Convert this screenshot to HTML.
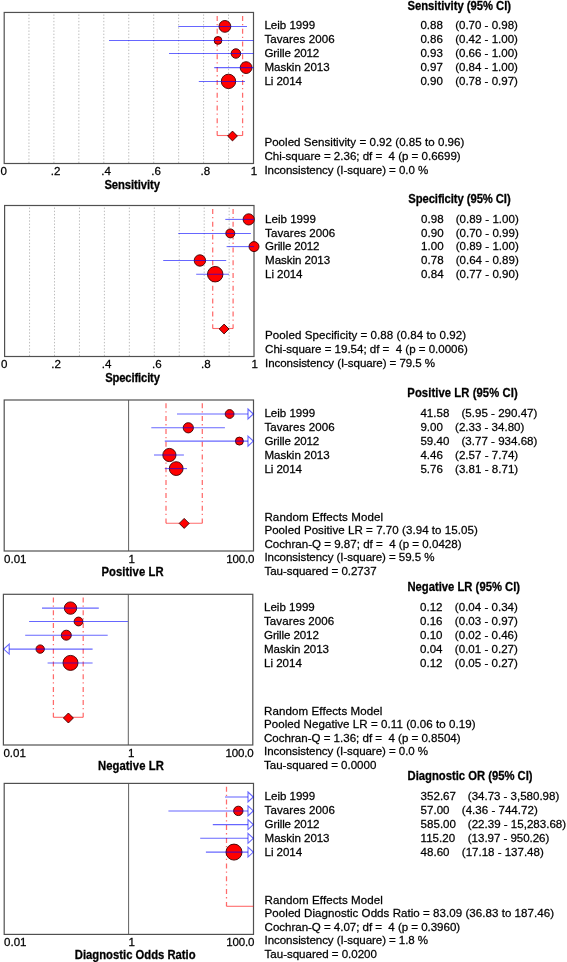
<!DOCTYPE html>
<html><head><meta charset="utf-8"><style>
html,body{margin:0;padding:0;background:#fff;overflow:hidden;}
svg{display:block;will-change:transform;filter:blur(0.35px);}
text{font-family:"Liberation Sans",sans-serif;fill:#000;white-space:pre;stroke:#000;stroke-width:0.25px;}
</style></head><body>
<svg width="567" height="962" viewBox="0 0 567 962" xml:space="preserve">
<!-- panel Sensitivity -->
<line x1="28.95" y1="14.45" x2="28.95" y2="163.0" stroke="#bcbcbc" stroke-width="1" stroke-dasharray="1.4 1.8"/>
<line x1="53.9" y1="14.45" x2="53.9" y2="163.0" stroke="#bcbcbc" stroke-width="1" stroke-dasharray="1.4 1.8"/>
<line x1="78.85" y1="14.45" x2="78.85" y2="163.0" stroke="#bcbcbc" stroke-width="1" stroke-dasharray="1.4 1.8"/>
<line x1="103.8" y1="14.45" x2="103.8" y2="163.0" stroke="#bcbcbc" stroke-width="1" stroke-dasharray="1.4 1.8"/>
<line x1="128.75" y1="14.45" x2="128.75" y2="163.0" stroke="#bcbcbc" stroke-width="1" stroke-dasharray="1.4 1.8"/>
<line x1="153.7" y1="14.45" x2="153.7" y2="163.0" stroke="#bcbcbc" stroke-width="1" stroke-dasharray="1.4 1.8"/>
<line x1="178.65" y1="14.45" x2="178.65" y2="163.0" stroke="#bcbcbc" stroke-width="1" stroke-dasharray="1.4 1.8"/>
<line x1="203.6" y1="14.45" x2="203.6" y2="163.0" stroke="#bcbcbc" stroke-width="1" stroke-dasharray="1.4 1.8"/>
<line x1="228.55" y1="14.45" x2="228.55" y2="163.0" stroke="#bcbcbc" stroke-width="1" stroke-dasharray="1.4 1.8"/>
<rect x="4.2" y="12.45" width="249.3" height="151.05" fill="none" stroke="#505050" stroke-width="1.2"/>
<line x1="217.2" y1="15.9" x2="217.2" y2="135.5" stroke="rgba(255,0,0,0.58)" stroke-width="1.25" stroke-dasharray="5 3 1.3 3.5"/>
<line x1="242.6" y1="15.9" x2="242.6" y2="135.5" stroke="rgba(255,0,0,0.58)" stroke-width="1.25" stroke-dasharray="5 3 1.3 3.5"/>
<line x1="217.2" y1="135.5" x2="242.6" y2="135.5" stroke="rgba(255,0,0,0.58)" stroke-width="1.1"/>
<circle cx="224.9" cy="26.4" r="5.9" fill="#ff0000" stroke="#3a0000" stroke-width="0.9"/>
<circle cx="218.0" cy="40.4" r="3.9" fill="#ff0000" stroke="#3a0000" stroke-width="0.9"/>
<circle cx="235.9" cy="53.5" r="4.75" fill="#ff0000" stroke="#3a0000" stroke-width="0.9"/>
<circle cx="246.1" cy="67.6" r="5.9" fill="#ff0000" stroke="#3a0000" stroke-width="0.9"/>
<circle cx="228.5" cy="81.4" r="7.2" fill="#ff0000" stroke="#3a0000" stroke-width="0.9"/>
<line x1="178.3" y1="26.4" x2="247" y2="26.4" stroke="rgba(0,0,255,0.6)" stroke-width="1.05"/>
<line x1="109" y1="40.4" x2="253.5" y2="40.4" stroke="rgba(0,0,255,0.6)" stroke-width="1.05"/>
<line x1="169" y1="53.5" x2="253.5" y2="53.5" stroke="rgba(0,0,255,0.6)" stroke-width="1.05"/>
<line x1="214.2" y1="67.6" x2="253.5" y2="67.6" stroke="rgba(0,0,255,0.6)" stroke-width="1.05"/>
<line x1="198.8" y1="81.4" x2="245" y2="81.4" stroke="rgba(0,0,255,0.6)" stroke-width="1.05"/>
<polygon points="227.6,136 232.5,131.1 237.4,136 232.5,140.9" fill="#ff0000" stroke="#3a0000" stroke-width="0.9"/>
<text x="407.44" y="10.0" font-size="11.27" font-weight="bold" textLength="103.68" lengthAdjust="spacing" transform="matrix(1 0 0 1.06 0 -0.6)">Sensitivity (95% CI)</text>
<text x="264.4" y="29.3" font-size="11.58" textLength="50.68" lengthAdjust="spacing" transform="matrix(1 0 0 1.01 0 -0.293)">Leib 1999</text>
<text x="420.4" y="29.3" font-size="11.58" transform="matrix(1 0 0 1.01 0 -0.293)">0.88</text>
<text x="455.16" y="29.3" font-size="11.58" textLength="62.77" lengthAdjust="spacing" transform="matrix(1 0 0 1.01 0 -0.293)">(0.70 - 0.98)</text>
<text x="264.4" y="43.0" font-size="11.58" textLength="70.26" lengthAdjust="spacing" transform="matrix(1 0 0 1.01 0 -0.43)">Tavares 2006</text>
<text x="420.4" y="43.0" font-size="11.58" transform="matrix(1 0 0 1.01 0 -0.43)">0.86</text>
<text x="455.16" y="43.0" font-size="11.58" textLength="62.77" lengthAdjust="spacing" transform="matrix(1 0 0 1.01 0 -0.43)">(0.42 - 1.00)</text>
<text x="264.4" y="56.8" font-size="11.58" textLength="54.91" lengthAdjust="spacing" transform="matrix(1 0 0 1.01 0 -0.568)">Grille 2012</text>
<text x="420.4" y="56.8" font-size="11.58" transform="matrix(1 0 0 1.01 0 -0.568)">0.93</text>
<text x="455.16" y="56.8" font-size="11.58" textLength="62.77" lengthAdjust="spacing" transform="matrix(1 0 0 1.01 0 -0.568)">(0.66 - 1.00)</text>
<text x="264.4" y="70.75" font-size="11.58" textLength="65.21" lengthAdjust="spacing" transform="matrix(1 0 0 1.01 0 -0.708)">Maskin 2013</text>
<text x="420.4" y="70.75" font-size="11.58" transform="matrix(1 0 0 1.01 0 -0.708)">0.97</text>
<text x="455.16" y="70.75" font-size="11.58" textLength="62.77" lengthAdjust="spacing" transform="matrix(1 0 0 1.01 0 -0.708)">(0.84 - 1.00)</text>
<text x="264.4" y="84.85" font-size="11.58" textLength="37.63" lengthAdjust="spacing" transform="matrix(1 0 0 1.01 0 -0.849)">Li 2014</text>
<text x="420.4" y="84.85" font-size="11.58" transform="matrix(1 0 0 1.01 0 -0.849)">0.90</text>
<text x="455.16" y="84.85" font-size="11.58" textLength="62.77" lengthAdjust="spacing" transform="matrix(1 0 0 1.01 0 -0.849)">(0.78 - 0.97)</text>
<text x="264.4" y="145.9" font-size="11.58" textLength="200.0" lengthAdjust="spacing" transform="matrix(1 0 0 1.01 0 -1.459)">Pooled Sensitivity = 0.92 (0.85 to 0.96)</text>
<text x="264.4" y="159.8" font-size="11.58" textLength="196.25" lengthAdjust="spacing" transform="matrix(1 0 0 1.01 0 -1.598)">Chi-square = 2.36; df =  4 (p = 0.6699)</text>
<text x="264.4" y="173.7" font-size="11.58" textLength="163.8" lengthAdjust="spacing" transform="matrix(1 0 0 1.01 0 -1.737)">Inconsistency (I-square) = 0.0 %</text>
<text x="3.7" y="174.8" font-size="11.58" text-anchor="middle" transform="matrix(1 0 0 1.01 0 -1.748)">0</text>
<text x="55.5" y="174.8" font-size="11.58" text-anchor="middle" transform="matrix(1 0 0 1.01 0 -1.748)">.2</text>
<text x="106.1" y="174.8" font-size="11.58" text-anchor="middle" transform="matrix(1 0 0 1.01 0 -1.748)">.4</text>
<text x="156.2" y="174.8" font-size="11.58" text-anchor="middle" transform="matrix(1 0 0 1.01 0 -1.748)">.6</text>
<text x="205.3" y="174.8" font-size="11.58" text-anchor="middle" transform="matrix(1 0 0 1.01 0 -1.748)">.8</text>
<text x="254.0" y="174.8" font-size="11.58" text-anchor="middle" transform="matrix(1 0 0 1.01 0 -1.748)">1</text>
<text x="104.43" y="189.0" font-size="11.27" font-weight="bold" textLength="55.51" lengthAdjust="spacing" transform="matrix(1 0 0 1.06 0 -11.34)">Sensitivity</text>
<!-- panel Specificity -->
<line x1="29.55" y1="207.5" x2="29.55" y2="356.0" stroke="#bcbcbc" stroke-width="1" stroke-dasharray="1.4 1.8"/>
<line x1="54.5" y1="207.5" x2="54.5" y2="356.0" stroke="#bcbcbc" stroke-width="1" stroke-dasharray="1.4 1.8"/>
<line x1="79.45" y1="207.5" x2="79.45" y2="356.0" stroke="#bcbcbc" stroke-width="1" stroke-dasharray="1.4 1.8"/>
<line x1="104.4" y1="207.5" x2="104.4" y2="356.0" stroke="#bcbcbc" stroke-width="1" stroke-dasharray="1.4 1.8"/>
<line x1="129.35" y1="207.5" x2="129.35" y2="356.0" stroke="#bcbcbc" stroke-width="1" stroke-dasharray="1.4 1.8"/>
<line x1="154.3" y1="207.5" x2="154.3" y2="356.0" stroke="#bcbcbc" stroke-width="1" stroke-dasharray="1.4 1.8"/>
<line x1="179.25" y1="207.5" x2="179.25" y2="356.0" stroke="#bcbcbc" stroke-width="1" stroke-dasharray="1.4 1.8"/>
<line x1="204.2" y1="207.5" x2="204.2" y2="356.0" stroke="#bcbcbc" stroke-width="1" stroke-dasharray="1.4 1.8"/>
<line x1="229.15" y1="207.5" x2="229.15" y2="356.0" stroke="#bcbcbc" stroke-width="1" stroke-dasharray="1.4 1.8"/>
<rect x="4.6" y="205.5" width="249.4" height="151.0" fill="none" stroke="#505050" stroke-width="1.2"/>
<line x1="212.7" y1="209.0" x2="212.7" y2="328.5" stroke="rgba(255,0,0,0.58)" stroke-width="1.25" stroke-dasharray="5 3 1.3 3.5"/>
<line x1="233.1" y1="209.0" x2="233.1" y2="328.5" stroke="rgba(255,0,0,0.58)" stroke-width="1.25" stroke-dasharray="5 3 1.3 3.5"/>
<line x1="212.7" y1="328.5" x2="233.1" y2="328.5" stroke="rgba(255,0,0,0.58)" stroke-width="1.1"/>
<circle cx="248.7" cy="219.4" r="5.6" fill="#ff0000" stroke="#3a0000" stroke-width="0.9"/>
<circle cx="230.3" cy="233.4" r="4.5" fill="#ff0000" stroke="#3a0000" stroke-width="0.9"/>
<circle cx="254.0" cy="246.6" r="5.0" fill="#ff0000" stroke="#3a0000" stroke-width="0.9"/>
<circle cx="199.9" cy="260.5" r="5.7" fill="#ff0000" stroke="#3a0000" stroke-width="0.9"/>
<circle cx="215.2" cy="274.2" r="7.75" fill="#ff0000" stroke="#3a0000" stroke-width="0.9"/>
<line x1="225.3" y1="219.4" x2="254.0" y2="219.4" stroke="rgba(0,0,255,0.6)" stroke-width="1.05"/>
<line x1="178.3" y1="233.4" x2="250.9" y2="233.4" stroke="rgba(0,0,255,0.6)" stroke-width="1.05"/>
<line x1="226.6" y1="246.6" x2="254.0" y2="246.6" stroke="rgba(0,0,255,0.6)" stroke-width="1.05"/>
<line x1="163.2" y1="260.5" x2="226.2" y2="260.5" stroke="rgba(0,0,255,0.6)" stroke-width="1.05"/>
<line x1="196.2" y1="274.2" x2="229" y2="274.2" stroke="rgba(0,0,255,0.6)" stroke-width="1.05"/>
<polygon points="219.2,329 224.1,324.1 229.0,329 224.1,333.9" fill="#ff0000" stroke="#3a0000" stroke-width="0.9"/>
<text x="408.26" y="202.7" font-size="11.27" font-weight="bold" textLength="102.42" lengthAdjust="spacing" transform="matrix(1 0 0 1.06 0 -12.162)">Specificity (95% CI)</text>
<text x="265.1" y="222.7" font-size="11.58" textLength="50.77" lengthAdjust="spacing" transform="matrix(1 0 0 1.01 0 -2.227)">Leib 1999</text>
<text x="421.1" y="222.7" font-size="11.58" transform="matrix(1 0 0 1.01 0 -2.227)">0.98</text>
<text x="455.66" y="222.7" font-size="11.58" textLength="63.12" lengthAdjust="spacing" transform="matrix(1 0 0 1.01 0 -2.227)">(0.89 - 1.00)</text>
<text x="265.1" y="236.6" font-size="11.58" textLength="70.12" lengthAdjust="spacing" transform="matrix(1 0 0 1.01 0 -2.366)">Tavares 2006</text>
<text x="421.1" y="236.6" font-size="11.58" transform="matrix(1 0 0 1.01 0 -2.366)">0.90</text>
<text x="455.66" y="236.6" font-size="11.58" textLength="63.12" lengthAdjust="spacing" transform="matrix(1 0 0 1.01 0 -2.366)">(0.70 - 0.99)</text>
<text x="265.1" y="250.4" font-size="11.58" textLength="54.46" lengthAdjust="spacing" transform="matrix(1 0 0 1.01 0 -2.504)">Grille 2012</text>
<text x="421.1" y="250.4" font-size="11.58" transform="matrix(1 0 0 1.01 0 -2.504)">1.00</text>
<text x="455.66" y="250.4" font-size="11.58" textLength="63.12" lengthAdjust="spacing" transform="matrix(1 0 0 1.01 0 -2.504)">(0.89 - 1.00)</text>
<text x="265.1" y="264.3" font-size="11.58" textLength="65.06" lengthAdjust="spacing" transform="matrix(1 0 0 1.01 0 -2.643)">Maskin 2013</text>
<text x="421.1" y="264.3" font-size="11.58" transform="matrix(1 0 0 1.01 0 -2.643)">0.78</text>
<text x="455.66" y="264.3" font-size="11.58" textLength="63.12" lengthAdjust="spacing" transform="matrix(1 0 0 1.01 0 -2.643)">(0.64 - 0.89)</text>
<text x="265.1" y="278.2" font-size="11.58" textLength="37.46" lengthAdjust="spacing" transform="matrix(1 0 0 1.01 0 -2.782)">Li 2014</text>
<text x="421.1" y="278.2" font-size="11.58" transform="matrix(1 0 0 1.01 0 -2.782)">0.84</text>
<text x="455.66" y="278.2" font-size="11.58" textLength="63.12" lengthAdjust="spacing" transform="matrix(1 0 0 1.01 0 -2.782)">(0.77 - 0.90)</text>
<text x="265.1" y="338.8" font-size="11.58" textLength="200.92" lengthAdjust="spacing" transform="matrix(1 0 0 1.01 0 -3.388)">Pooled Specificity = 0.88 (0.84 to 0.92)</text>
<text x="265.1" y="352.8" font-size="11.58" textLength="202.7" lengthAdjust="spacing" transform="matrix(1 0 0 1.01 0 -3.528)">Chi-square = 19.54; df =  4 (p = 0.0006)</text>
<text x="265.1" y="366.8" font-size="11.58" textLength="169.89" lengthAdjust="spacing" transform="matrix(1 0 0 1.01 0 -3.668)">Inconsistency (I-square) = 79.5 %</text>
<text x="4.3" y="367.7" font-size="11.58" text-anchor="middle" transform="matrix(1 0 0 1.01 0 -3.677)">0</text>
<text x="56.1" y="367.7" font-size="11.58" text-anchor="middle" transform="matrix(1 0 0 1.01 0 -3.677)">.2</text>
<text x="106.7" y="367.7" font-size="11.58" text-anchor="middle" transform="matrix(1 0 0 1.01 0 -3.677)">.4</text>
<text x="156.8" y="367.7" font-size="11.58" text-anchor="middle" transform="matrix(1 0 0 1.01 0 -3.677)">.6</text>
<text x="205.9" y="367.7" font-size="11.58" text-anchor="middle" transform="matrix(1 0 0 1.01 0 -3.677)">.8</text>
<text x="254.6" y="367.7" font-size="11.58" text-anchor="middle" transform="matrix(1 0 0 1.01 0 -3.677)">1</text>
<text x="105.13" y="382.2" font-size="11.27" font-weight="bold" textLength="54.88" lengthAdjust="spacing" transform="matrix(1 0 0 1.06 0 -22.932)">Specificity</text>
<!-- panel Positive LR -->
<line x1="128.6" y1="400.0" x2="128.6" y2="551.0" stroke="#606060" stroke-width="1"/>
<rect x="4.2" y="400.0" width="249.3" height="151.0" fill="none" stroke="#505050" stroke-width="1.2"/>
<line x1="166.0" y1="403.3" x2="166.0" y2="523.2" stroke="rgba(255,0,0,0.58)" stroke-width="1.25" stroke-dasharray="5 3 1.3 3.5"/>
<line x1="202.3" y1="403.3" x2="202.3" y2="523.2" stroke="rgba(255,0,0,0.58)" stroke-width="1.25" stroke-dasharray="5 3 1.3 3.5"/>
<line x1="166.0" y1="523.2" x2="202.3" y2="523.2" stroke="rgba(255,0,0,0.58)" stroke-width="1.1"/>
<circle cx="229.6" cy="414.0" r="4.4" fill="#ff0000" stroke="#3a0000" stroke-width="0.9"/>
<circle cx="188.3" cy="427.8" r="5.1" fill="#ff0000" stroke="#3a0000" stroke-width="0.9"/>
<circle cx="239.4" cy="441.1" r="4.0" fill="#ff0000" stroke="#3a0000" stroke-width="0.9"/>
<circle cx="169.4" cy="455.0" r="6.6" fill="#ff0000" stroke="#3a0000" stroke-width="0.9"/>
<circle cx="176.2" cy="468.6" r="6.9" fill="#ff0000" stroke="#3a0000" stroke-width="0.9"/>
<line x1="177.0" y1="414.0" x2="248" y2="414.0" stroke="rgba(0,0,255,0.6)" stroke-width="1.05"/>
<polygon points="248,409.0 253.3,414.0 248,419.0" fill="none" stroke="rgba(0,0,255,0.6)" stroke-width="1.1"/>
<line x1="151.3" y1="427.8" x2="224.9" y2="427.8" stroke="rgba(0,0,255,0.6)" stroke-width="1.05"/>
<line x1="164.8" y1="441.1" x2="248" y2="441.1" stroke="rgba(0,0,255,0.6)" stroke-width="1.05"/>
<polygon points="248,436.1 253.3,441.1 248,446.1" fill="none" stroke="rgba(0,0,255,0.6)" stroke-width="1.1"/>
<line x1="154.0" y1="455.0" x2="183.9" y2="455.0" stroke="rgba(0,0,255,0.6)" stroke-width="1.05"/>
<line x1="164.8" y1="468.6" x2="187.0" y2="468.6" stroke="rgba(0,0,255,0.6)" stroke-width="1.05"/>
<polygon points="179.2,523.4 184.2,518.4 189.2,523.4 184.2,528.4" fill="#ff0000" stroke="#3a0000" stroke-width="0.9"/>
<text x="407.33" y="396.8" font-size="11.27" font-weight="bold" textLength="110.33" lengthAdjust="spacing" transform="matrix(1 0 0 1.06 0 -23.808)">Positive LR (95% CI)</text>
<text x="264.4" y="416.7" font-size="11.58" textLength="50.68" lengthAdjust="spacing" transform="matrix(1 0 0 1.01 0 -4.167)">Leib 1999</text>
<text x="420.4" y="416.7" font-size="11.58" transform="matrix(1 0 0 1.01 0 -4.167)">41.58</text>
<text x="461.46" y="416.7" font-size="11.58" textLength="75.92" lengthAdjust="spacing" transform="matrix(1 0 0 1.01 0 -4.167)">(5.95 - 290.47)</text>
<text x="264.4" y="430.7" font-size="11.58" textLength="70.26" lengthAdjust="spacing" transform="matrix(1 0 0 1.01 0 -4.307)">Tavares 2006</text>
<text x="420.4" y="430.7" font-size="11.58" transform="matrix(1 0 0 1.01 0 -4.307)">9.00</text>
<text x="455.05" y="430.7" font-size="11.58" textLength="69.33" lengthAdjust="spacing" transform="matrix(1 0 0 1.01 0 -4.307)">(2.33 - 34.80)</text>
<text x="264.4" y="444.7" font-size="11.58" textLength="54.91" lengthAdjust="spacing" transform="matrix(1 0 0 1.01 0 -4.447)">Grille 2012</text>
<text x="420.4" y="444.7" font-size="11.58" transform="matrix(1 0 0 1.01 0 -4.447)">59.40</text>
<text x="461.46" y="444.7" font-size="11.58" textLength="75.92" lengthAdjust="spacing" transform="matrix(1 0 0 1.01 0 -4.447)">(3.77 - 934.68)</text>
<text x="264.4" y="458.7" font-size="11.58" textLength="65.21" lengthAdjust="spacing" transform="matrix(1 0 0 1.01 0 -4.587)">Maskin 2013</text>
<text x="420.4" y="458.7" font-size="11.58" transform="matrix(1 0 0 1.01 0 -4.587)">4.46</text>
<text x="455.05" y="458.7" font-size="11.58" textLength="63.18" lengthAdjust="spacing" transform="matrix(1 0 0 1.01 0 -4.587)">(2.57 - 7.74)</text>
<text x="264.4" y="472.7" font-size="11.58" textLength="37.63" lengthAdjust="spacing" transform="matrix(1 0 0 1.01 0 -4.727)">Li 2014</text>
<text x="420.4" y="472.7" font-size="11.58" transform="matrix(1 0 0 1.01 0 -4.727)">5.76</text>
<text x="455.05" y="472.7" font-size="11.58" textLength="63.18" lengthAdjust="spacing" transform="matrix(1 0 0 1.01 0 -4.727)">(3.81 - 8.71)</text>
<text x="264.4" y="520.6" font-size="11.58" textLength="118.66" lengthAdjust="spacing" transform="matrix(1 0 0 1.01 0 -5.206)">Random Effects Model</text>
<text x="264.4" y="533.8" font-size="11.58" textLength="213.42" lengthAdjust="spacing" transform="matrix(1 0 0 1.01 0 -5.338)">Pooled Positive LR = 7.70 (3.94 to 15.05)</text>
<text x="264.4" y="547.6" font-size="11.58" textLength="197.18" lengthAdjust="spacing" transform="matrix(1 0 0 1.01 0 -5.476)">Cochran-Q = 9.87; df =  4 (p = 0.0428)</text>
<text x="264.4" y="561.1" font-size="11.58" textLength="170.06" lengthAdjust="spacing" transform="matrix(1 0 0 1.01 0 -5.611)">Inconsistency (I-square) = 59.5 %</text>
<text x="264.4" y="574.6" font-size="11.58" textLength="112.2" lengthAdjust="spacing" transform="matrix(1 0 0 1.01 0 -5.746)">Tau-squared = 0.2737</text>
<text x="4" y="562.9" font-size="11.58" transform="matrix(1 0 0 1.01 0 -5.629)">0.01</text>
<text x="131.8" y="562.9" font-size="11.58" text-anchor="middle" transform="matrix(1 0 0 1.01 0 -5.629)">1</text>
<text x="254.4" y="562.9" font-size="11.58" text-anchor="end" textLength="28.2" lengthAdjust="spacing" transform="matrix(1 0 0 1.01 0 -5.629)">100.0</text>
<text x="101.44" y="575.9" font-size="11.27" font-weight="bold" textLength="62.15" lengthAdjust="spacing" transform="matrix(1 0 0 1.06 0 -34.554)">Positive LR</text>
<!-- panel Negative LR -->
<line x1="128.3" y1="594.3" x2="128.3" y2="745.0" stroke="#606060" stroke-width="1"/>
<rect x="3.4" y="594.3" width="249.4" height="150.70000000000005" fill="none" stroke="#505050" stroke-width="1.2"/>
<line x1="53.4" y1="597.5" x2="53.4" y2="717.3" stroke="rgba(255,0,0,0.58)" stroke-width="1.25" stroke-dasharray="5 3 1.3 3.5"/>
<line x1="83.2" y1="597.5" x2="83.2" y2="717.3" stroke="rgba(255,0,0,0.58)" stroke-width="1.25" stroke-dasharray="5 3 1.3 3.5"/>
<line x1="53.4" y1="717.3" x2="83.2" y2="717.3" stroke="rgba(255,0,0,0.58)" stroke-width="1.1"/>
<circle cx="70.5" cy="608.1" r="6.2" fill="#ff0000" stroke="#3a0000" stroke-width="0.9"/>
<circle cx="78.5" cy="621.5" r="4.4" fill="#ff0000" stroke="#3a0000" stroke-width="0.9"/>
<circle cx="66.3" cy="635.2" r="5.0" fill="#ff0000" stroke="#3a0000" stroke-width="0.9"/>
<circle cx="40.2" cy="649.1" r="4.2" fill="#ff0000" stroke="#3a0000" stroke-width="0.9"/>
<circle cx="70.5" cy="662.9" r="7.5" fill="#ff0000" stroke="#3a0000" stroke-width="0.9"/>
<line x1="42.0" y1="608.1" x2="98.8" y2="608.1" stroke="rgba(0,0,255,0.6)" stroke-width="1.05"/>
<line x1="29.1" y1="621.5" x2="127.9" y2="621.5" stroke="rgba(0,0,255,0.6)" stroke-width="1.05"/>
<line x1="25.2" y1="635.2" x2="107.7" y2="635.2" stroke="rgba(0,0,255,0.6)" stroke-width="1.05"/>
<line x1="9.2" y1="649.1" x2="92.6" y2="649.1" stroke="rgba(0,0,255,0.6)" stroke-width="1.05"/>
<polygon points="9.2,644.1 3.6999999999999993,649.1 9.2,654.1" fill="none" stroke="rgba(0,0,255,0.6)" stroke-width="1.1"/>
<line x1="47.6" y1="662.9" x2="92.6" y2="662.9" stroke="rgba(0,0,255,0.6)" stroke-width="1.05"/>
<polygon points="63.400000000000006,718 68.4,713.0 73.4,718 68.4,723.0" fill="#ff0000" stroke="#3a0000" stroke-width="0.9"/>
<text x="407.43" y="591.3" font-size="11.27" font-weight="bold" textLength="112.64" lengthAdjust="spacing" transform="matrix(1 0 0 1.06 0 -35.478)">Negative LR (95% CI)</text>
<text x="264.0" y="610.7" font-size="11.58" textLength="50.77" lengthAdjust="spacing" transform="matrix(1 0 0 1.01 0 -6.107)">Leib 1999</text>
<text x="420.0" y="610.7" font-size="11.58" transform="matrix(1 0 0 1.01 0 -6.107)">0.12</text>
<text x="454.86" y="610.7" font-size="11.58" textLength="63.03" lengthAdjust="spacing" transform="matrix(1 0 0 1.01 0 -6.107)">(0.04 - 0.34)</text>
<text x="264.0" y="624.7" font-size="11.58" textLength="70.27" lengthAdjust="spacing" transform="matrix(1 0 0 1.01 0 -6.247)">Tavares 2006</text>
<text x="420.0" y="624.7" font-size="11.58" transform="matrix(1 0 0 1.01 0 -6.247)">0.16</text>
<text x="454.86" y="624.7" font-size="11.58" textLength="63.03" lengthAdjust="spacing" transform="matrix(1 0 0 1.01 0 -6.247)">(0.03 - 0.97)</text>
<text x="264.0" y="638.7" font-size="11.58" textLength="54.85" lengthAdjust="spacing" transform="matrix(1 0 0 1.01 0 -6.387)">Grille 2012</text>
<text x="420.0" y="638.7" font-size="11.58" transform="matrix(1 0 0 1.01 0 -6.387)">0.10</text>
<text x="454.86" y="638.7" font-size="11.58" textLength="63.03" lengthAdjust="spacing" transform="matrix(1 0 0 1.01 0 -6.387)">(0.02 - 0.46)</text>
<text x="264.0" y="652.7" font-size="11.58" textLength="65.06" lengthAdjust="spacing" transform="matrix(1 0 0 1.01 0 -6.527)">Maskin 2013</text>
<text x="420.0" y="652.7" font-size="11.58" transform="matrix(1 0 0 1.01 0 -6.527)">0.04</text>
<text x="454.86" y="652.7" font-size="11.58" textLength="63.03" lengthAdjust="spacing" transform="matrix(1 0 0 1.01 0 -6.527)">(0.01 - 0.27)</text>
<text x="264.0" y="666.7" font-size="11.58" textLength="37.89" lengthAdjust="spacing" transform="matrix(1 0 0 1.01 0 -6.667)">Li 2014</text>
<text x="420.0" y="666.7" font-size="11.58" transform="matrix(1 0 0 1.01 0 -6.667)">0.12</text>
<text x="454.86" y="666.7" font-size="11.58" textLength="63.03" lengthAdjust="spacing" transform="matrix(1 0 0 1.01 0 -6.667)">(0.05 - 0.27)</text>
<text x="264.0" y="714.6" font-size="11.58" textLength="118.42" lengthAdjust="spacing" transform="matrix(1 0 0 1.01 0 -7.146)">Random Effects Model</text>
<text x="264.0" y="728.1" font-size="11.58" textLength="211.55" lengthAdjust="spacing" transform="matrix(1 0 0 1.01 0 -7.281)">Pooled Negative LR = 0.11 (0.06 to 0.19)</text>
<text x="264.0" y="741.7" font-size="11.58" textLength="196.62" lengthAdjust="spacing" transform="matrix(1 0 0 1.01 0 -7.417)">Cochran-Q = 1.36; df =  4 (p = 0.8504)</text>
<text x="264.0" y="755.2" font-size="11.58" textLength="164.11" lengthAdjust="spacing" transform="matrix(1 0 0 1.01 0 -7.552)">Inconsistency (I-square) = 0.0 %</text>
<text x="264.0" y="768.8" font-size="11.58" textLength="112.32" lengthAdjust="spacing" transform="matrix(1 0 0 1.01 0 -7.688)">Tau-squared = 0.0000</text>
<text x="3.4" y="756.6" font-size="11.58" transform="matrix(1 0 0 1.01 0 -7.566)">0.01</text>
<text x="131.2" y="756.6" font-size="11.58" text-anchor="middle" transform="matrix(1 0 0 1.01 0 -7.566)">1</text>
<text x="253.8" y="756.6" font-size="11.58" text-anchor="end" textLength="28.2" lengthAdjust="spacing" transform="matrix(1 0 0 1.01 0 -7.566)">100.0</text>
<text x="97.93" y="769.7" font-size="11.27" font-weight="bold" textLength="65.87" lengthAdjust="spacing" transform="matrix(1 0 0 1.06 0 -46.182)">Negative LR</text>
<!-- panel Diagnostic Odds Ratio -->
<line x1="128.6" y1="783.4" x2="128.6" y2="934.4" stroke="#606060" stroke-width="1"/>
<rect x="4.2" y="783.4" width="249.3" height="151.0" fill="none" stroke="#505050" stroke-width="1.2"/>
<line x1="226.5" y1="786.7" x2="226.5" y2="906.3" stroke="rgba(255,0,0,0.58)" stroke-width="1.25" stroke-dasharray="5 3 1.3 3.5"/>
<line x1="226.5" y1="906.3" x2="253.5" y2="906.3" stroke="rgba(255,0,0,0.58)" stroke-width="1.1"/>
<circle cx="238.3" cy="810.9" r="4.7" fill="#ff0000" stroke="#3a0000" stroke-width="0.9"/>
<circle cx="234.0" cy="852.1" r="8.0" fill="#ff0000" stroke="#3a0000" stroke-width="0.9"/>
<line x1="225.0" y1="797.0" x2="248" y2="797.0" stroke="rgba(0,0,255,0.6)" stroke-width="1.05"/>
<polygon points="248,792.0 253.3,797.0 248,802.0" fill="none" stroke="rgba(0,0,255,0.6)" stroke-width="1.1"/>
<line x1="168.4" y1="810.9" x2="248" y2="810.9" stroke="rgba(0,0,255,0.6)" stroke-width="1.05"/>
<polygon points="248,805.9 253.3,810.9 248,815.9" fill="none" stroke="rgba(0,0,255,0.6)" stroke-width="1.1"/>
<line x1="212.8" y1="824.6" x2="248" y2="824.6" stroke="rgba(0,0,255,0.6)" stroke-width="1.05"/>
<polygon points="248,819.6 253.3,824.6 248,829.6" fill="none" stroke="rgba(0,0,255,0.6)" stroke-width="1.1"/>
<line x1="200.2" y1="838.3" x2="248" y2="838.3" stroke="rgba(0,0,255,0.6)" stroke-width="1.05"/>
<polygon points="248,833.3 253.3,838.3 248,843.3" fill="none" stroke="rgba(0,0,255,0.6)" stroke-width="1.1"/>
<line x1="205.9" y1="852.1" x2="248" y2="852.1" stroke="rgba(0,0,255,0.6)" stroke-width="1.05"/>
<polygon points="248,847.1 253.3,852.1 248,857.1" fill="none" stroke="rgba(0,0,255,0.6)" stroke-width="1.1"/>
<text x="407.63" y="779.8" font-size="11.27" font-weight="bold" textLength="124.98" lengthAdjust="spacing" transform="matrix(1 0 0 1.06 0 -46.788)">Diagnostic OR (95% CI)</text>
<text x="264.6" y="800.1" font-size="11.58" textLength="50.51" lengthAdjust="spacing" transform="matrix(1 0 0 1.01 0 -8.001)">Leib 1999</text>
<text x="420.6" y="800.1" font-size="11.58" transform="matrix(1 0 0 1.01 0 -8.001)">352.67</text>
<text x="467.83" y="800.1" font-size="11.58" textLength="91.42" lengthAdjust="spacing" transform="matrix(1 0 0 1.01 0 -8.001)">(34.73 - 3,580.98)</text>
<text x="264.6" y="814.0" font-size="11.58" textLength="70.26" lengthAdjust="spacing" transform="matrix(1 0 0 1.01 0 -8.14)">Tavares 2006</text>
<text x="420.6" y="814.0" font-size="11.58" transform="matrix(1 0 0 1.01 0 -8.14)">57.00</text>
<text x="461.81" y="814.0" font-size="11.58" textLength="75.95" lengthAdjust="spacing" transform="matrix(1 0 0 1.01 0 -8.14)">(4.36 - 744.72)</text>
<text x="264.6" y="828.0" font-size="11.58" textLength="54.79" lengthAdjust="spacing" transform="matrix(1 0 0 1.01 0 -8.28)">Grille 2012</text>
<text x="420.6" y="828.0" font-size="11.58" transform="matrix(1 0 0 1.01 0 -8.28)">585.00</text>
<text x="467.83" y="828.0" font-size="11.58" textLength="98.28" lengthAdjust="spacing" transform="matrix(1 0 0 1.01 0 -8.28)">(22.39 - 15,283.68)</text>
<text x="264.6" y="841.9" font-size="11.58" textLength="64.96" lengthAdjust="spacing" transform="matrix(1 0 0 1.01 0 -8.419)">Maskin 2013</text>
<text x="420.6" y="841.9" font-size="11.58" transform="matrix(1 0 0 1.01 0 -8.419)">115.20</text>
<text x="467.83" y="841.9" font-size="11.58" textLength="81.5" lengthAdjust="spacing" transform="matrix(1 0 0 1.01 0 -8.419)">(13.97 - 950.26)</text>
<text x="264.6" y="855.9" font-size="11.58" textLength="37.53" lengthAdjust="spacing" transform="matrix(1 0 0 1.01 0 -8.559)">Li 2014</text>
<text x="420.6" y="855.9" font-size="11.58" transform="matrix(1 0 0 1.01 0 -8.559)">48.60</text>
<text x="461.81" y="855.9" font-size="11.58" textLength="81.99" lengthAdjust="spacing" transform="matrix(1 0 0 1.01 0 -8.559)">(17.18 - 137.48)</text>
<text x="264.6" y="903.7" font-size="11.58" textLength="118.24" lengthAdjust="spacing" transform="matrix(1 0 0 1.01 0 -9.037)">Random Effects Model</text>
<text x="264.6" y="917.3" font-size="11.58" textLength="289.42" lengthAdjust="spacing" transform="matrix(1 0 0 1.01 0 -9.173)">Pooled Diagnostic Odds Ratio = 83.09 (36.83 to 187.46)</text>
<text x="264.6" y="930.9" font-size="11.58" textLength="195.56" lengthAdjust="spacing" transform="matrix(1 0 0 1.01 0 -9.309)">Cochran-Q = 4.07; df =  4 (p = 0.3960)</text>
<text x="264.6" y="944.4" font-size="11.58" textLength="163.46" lengthAdjust="spacing" transform="matrix(1 0 0 1.01 0 -9.444)">Inconsistency (I-square) = 1.8 %</text>
<text x="264.6" y="958.0" font-size="11.58" textLength="112.27" lengthAdjust="spacing" transform="matrix(1 0 0 1.01 0 -9.58)">Tau-squared = 0.0200</text>
<text x="4" y="945.8" font-size="11.58" transform="matrix(1 0 0 1.01 0 -9.458)">0.01</text>
<text x="131.8" y="945.8" font-size="11.58" text-anchor="middle" transform="matrix(1 0 0 1.01 0 -9.458)">1</text>
<text x="254.4" y="945.8" font-size="11.58" text-anchor="end" textLength="28.2" lengthAdjust="spacing" transform="matrix(1 0 0 1.01 0 -9.458)">100.0</text>
<text x="74.84" y="959.0" font-size="11.27" font-weight="bold" textLength="120.75" lengthAdjust="spacing" transform="matrix(1 0 0 1.06 0 -57.54)">Diagnostic Odds Ratio</text>
</svg>
</body></html>
